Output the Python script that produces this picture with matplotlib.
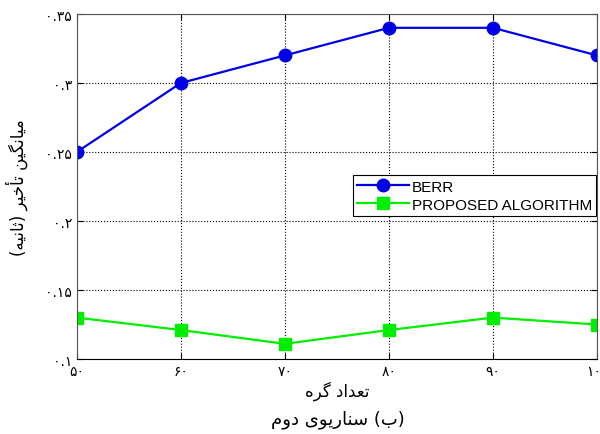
import matplotlib
matplotlib.use('Agg')
import matplotlib.pyplot as plt

# data
nodes = [50, 60, 70, 80, 90, 100]
berr = [0.25, 0.30, 0.32, 0.34, 0.34, 0.32]
proposed = [0.13, 0.121, 0.111, 0.121, 0.13, 0.125]
y_ticks = [0.10, 0.15, 0.20, 0.25, 0.30, 0.35]
series_names = ['BERR', 'PROPOSED ALGORITHM']
x_title = 'تعداد گره'
y_title = 'میانگین تأخیر (ثانیه)'
caption = '(ب) سناریوی دوم'

# simple arabic/persian shaping: (isolated, final, initial, medial)
FORMS = {
    'ا': ('\uFE8D', '\uFE8E', None, None),
    'أ': ('\uFE83', '\uFE84', None, None),
    'ب': ('\uFE8F', '\uFE90', '\uFE91', '\uFE92'),
    'ت': ('\uFE95', '\uFE96', '\uFE97', '\uFE98'),
    'ث': ('\uFE99', '\uFE9A', '\uFE9B', '\uFE9C'),
    'خ': ('\uFEA5', '\uFEA6', '\uFEA7', '\uFEA8'),
    'د': ('\uFEA9', '\uFEAA', None, None),
    'ر': ('\uFEAD', '\uFEAE', None, None),
    'س': ('\uFEB1', '\uFEB2', '\uFEB3', '\uFEB4'),
    'ع': ('\uFEC9', '\uFECA', '\uFECB', '\uFECC'),
    'م': ('\uFEE1', '\uFEE2', '\uFEE3', '\uFEE4'),
    'ن': ('\uFEE5', '\uFEE6', '\uFEE7', '\uFEE8'),
    'ه': ('\uFEE9', '\uFEEA', '\uFEEB', '\uFEEC'),
    'و': ('\uFEED', '\uFEEE', None, None),
    'ی': ('\uFBFC', '\uFBFD', '\uFBFE', '\uFBFF'),
    'گ': ('\uFB92', '\uFB93', '\uFB94', '\uFB95'),
}


def shape(text):
    # pick joined forms, then reverse for right-to-left display
    out = []
    for i, ch in enumerate(text):
        if ch not in FORMS:
            out.append(ch)
            continue
        prev = text[i - 1] if i > 0 else ''
        nxt = text[i + 1] if i + 1 < len(text) else ''
        join_prev = prev in FORMS and FORMS[prev][2] is not None
        join_next = FORMS[ch][2] is not None and nxt in FORMS
        f = FORMS[ch]
        if join_prev and join_next:
            out.append(f[3])
        elif join_prev:
            out.append(f[1])
        elif join_next:
            out.append(f[2])
        else:
            out.append(f[0])
    mirror = {'(': ')', ')': '('}
    return ''.join(mirror.get(c, c) for c in reversed(out))


def fa_num(s):
    return s.translate(str.maketrans('0123456789', '۰۱۲۳۴۵۶۷۸۹'))


plt.rcParams['font.family'] = ['DejaVu Sans']

fig = plt.figure(figsize=(6, 4.35), dpi=100)
ax = fig.add_axes([0.128, 0.1724, 0.867, 0.7931])

ax.plot(nodes, berr, color='#0000e6', marker='o', markersize=9, linewidth=1.6,
        label=series_names[0])
ax.plot(nodes, proposed, color='#00ee00', marker='s', markersize=8, linewidth=1.6,
        label=series_names[1])

ax.set_xlim(50, 100)
ax.set_ylim(0.10, 0.35)
ax.set_xticks(nodes)
ax.set_xticklabels([fa_num(str(n)) for n in nodes], fontsize=10)
ax.set_yticks(y_ticks)
ax.set_yticklabels(['۰' + fa_num(('%.2f' % v).rstrip('0')[1:]) for v in y_ticks], fontsize=10)
ax.tick_params(direction='in', top=True, right=True, length=4)
ax.grid(True, color='black', linestyle=':', linewidth=0.8)
for sp in ax.spines.values():
    sp.set_color('#555555')
ax.spines['bottom'].set_color('black')

leg = ax.legend(loc='upper right', bbox_to_anchor=(0.999, 0.533),
                prop={'family': 'Liberation Sans', 'size': 11},
                fancybox=False, framealpha=1, edgecolor='black',
                borderpad=0.3, labelspacing=0.25, handlelength=3.4,
                handletextpad=0.15, borderaxespad=0)
leg.get_frame().set_linewidth(0.8)

ax.set_xlabel(shape(x_title), fontsize=12, labelpad=2)
ax.set_ylabel(shape(y_title), fontsize=12, labelpad=12)
fig.text(0.563, 0.035, shape(caption), fontsize=13, ha='center', va='center')

fig.savefig('out.png', dpi=100)
